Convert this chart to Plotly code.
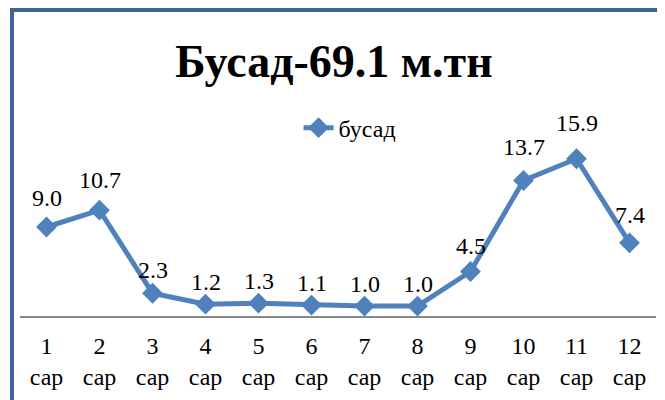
import plotly.graph_objects as go

months = ["1<br>сар", "2<br>сар", "3<br>сар", "4<br>сар", "5<br>сар", "6<br>сар",
          "7<br>сар", "8<br>сар", "9<br>сар", "10<br>сар", "11<br>сар", "12<br>сар"]
busad = [9.0, 10.7, 2.3, 1.2, 1.3, 1.1, 1.0, 1.0, 4.5, 13.7, 15.9, 7.4]
labels = [f"{v:.1f}" for v in busad]

SERIF = "Liberation Serif"
BLUE = "#4F81BD"
xs = list(range(len(months)))

fig = go.Figure()
fig.add_trace(
    go.Scatter(
        x=xs,
        y=busad,
        name="бусад",
        mode="lines+markers",
        line=dict(color=BLUE, width=5),
        marker=dict(symbol="diamond", size=16, color=BLUE),
        cliponaxis=False,
    )
)

# data labels above each point (the source chart sits them a bit higher on tall points)
for i, v in enumerate(busad):
    fig.add_annotation(
        x=xs[i], y=v, text=labels[i],
        showarrow=False, yanchor="bottom", yshift=6 + 0.9 * v,
        font=dict(family=SERIF, size=24, color="black"),
    )

# page has an 8px body margin, so the figure is drawn 8px smaller
# plot area: x 12..648, y 130..308 (px)
fig.update_layout(
    width=657,
    height=392,
    margin=dict(l=12, r=9, t=130, b=84),
    paper_bgcolor="white",
    plot_bgcolor="white",
    font=dict(family=SERIF, size=24, color="black"),
    title=dict(
        text="<b>Бусад-69.1 м.тн</b>",
        font=dict(family=SERIF, size=46, color="black"),
        x=0.4937,
        xanchor="center",
        xref="paper",
        y=0.865,
        yanchor="middle",
        yref="container",
    ),
    showlegend=True,
    legend=dict(
        x=0.438,
        y=1.056,
        xanchor="left",
        yanchor="middle",
        bgcolor="rgba(0,0,0,0)",
        font=dict(family=SERIF, size=24, color="black"),
    ),
    xaxis=dict(
        tickmode="array",
        tickvals=xs,
        ticktext=months,
        range=[-0.5, 11.5],
        showline=True,
        linecolor="#878787",
        linewidth=2,
        showgrid=False,
        zeroline=False,
        ticks="",
        ticklabelstandoff=7,
        tickfont=dict(family=SERIF, size=24, color="black"),
    ),
    yaxis=dict(
        range=[0, 18],
        visible=False,
        showgrid=False,
        zeroline=False,
    ),
)

# chart frame
fig.add_shape(
    type="rect",
    xref="paper",
    yref="paper",
    x0=(4 - 12) / 636,
    x1=(654 - 12) / 636,
    y0=(308 - 420) / 178,
    y1=1 + (130 - 2) / 178,
    line=dict(color="#3D6696", width=4),
    fillcolor="rgba(0,0,0,0)",
    layer="above",
)

fig.write_html("out.html")
